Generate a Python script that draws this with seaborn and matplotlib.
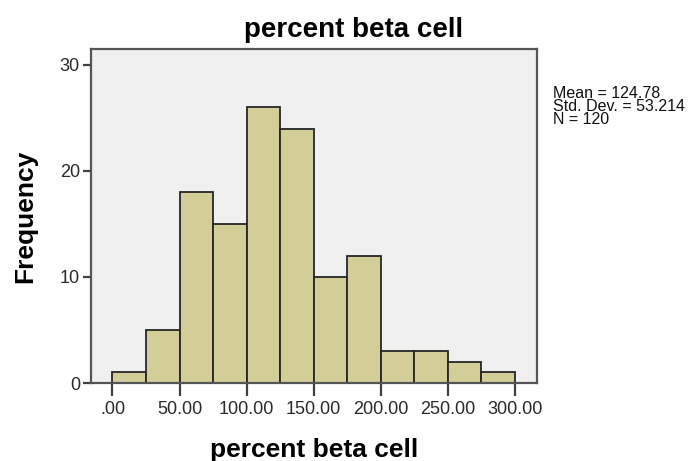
import matplotlib
matplotlib.use("Agg")
import matplotlib.pyplot as plt
import seaborn as sns
import numpy as np

# Histogram of percent beta cell: bin edges (width 25) and counts per bin
bin_edges = [0, 25, 50, 75, 100, 125, 150, 175, 200, 225, 250, 275, 300]
bin_counts = [1, 5, 18, 15, 26, 24, 10, 12, 3, 3, 2, 1]
x_ticks = [0, 50, 100, 150, 200, 250, 300]
x_tick_labels = [".00", "50.00", "100.00", "150.00", "200.00", "250.00", "300.00"]
y_ticks = [0, 10, 20, 30]
stats_lines = ["Mean = 124.78", "Std. Dev. = 53.214", "N = 120"]

sns.set_style("white")
plt.rcParams["font.family"] = ["Liberation Sans", "DejaVu Sans"]
plt.rcParams["text.color"] = "black"
plt.rcParams["axes.labelcolor"] = "black"

fig = plt.figure(figsize=(6.98, 4.61), dpi=100)
ax = fig.add_axes([91 / 698, 1 - 383 / 461, (537 - 91) / 698, (383 - 49) / 461])
ax.set_facecolor("#f0f0f0")

centers = [(a + b) / 2 for a, b in zip(bin_edges[:-1], bin_edges[1:])]
sns.histplot(x=centers, weights=bin_counts, bins=bin_edges, ax=ax,
             color="#d3ce98", alpha=1.0, edgecolor="#262626", linewidth=1.3)

ax.set_xlim(-16, 316.6)
ax.set_ylim(0, 31.5)
ax.set_xticks(x_ticks)
ax.set_xticklabels(x_tick_labels)
ax.set_yticks(y_ticks)

for s in ax.spines.values():
    s.set_visible(True)
    s.set_color("#555555")
    s.set_linewidth(1.6)

ax.tick_params(axis="x", direction="out", length=9, width=1.6, color="#404040",
               labelsize=13, labelcolor="#2a2a2a", pad=4, bottom=True)
ax.tick_params(axis="y", direction="out", length=6, width=1.6, color="#404040",
               labelsize=13, labelcolor="#2a2a2a", pad=2, left=True)

ax.set_xlabel("percent beta cell", fontsize=19, fontweight="bold", labelpad=14)
ax.set_ylabel("Frequency", fontsize=19, fontweight="bold", labelpad=16)

fig.text(354 / 698, 1 - 37 / 461, "percent beta cell", fontsize=20,
         fontweight="bold", ha="center", va="baseline")

fig.text(553 / 698, 1 - 86 / 461, "\n".join(stats_lines), fontsize=11.5,
         family=["Liberation Sans", "DejaVu Sans"], ha="left", va="top",
         linespacing=0.82, color="#111111")

fig.savefig("out.png", dpi=100)
